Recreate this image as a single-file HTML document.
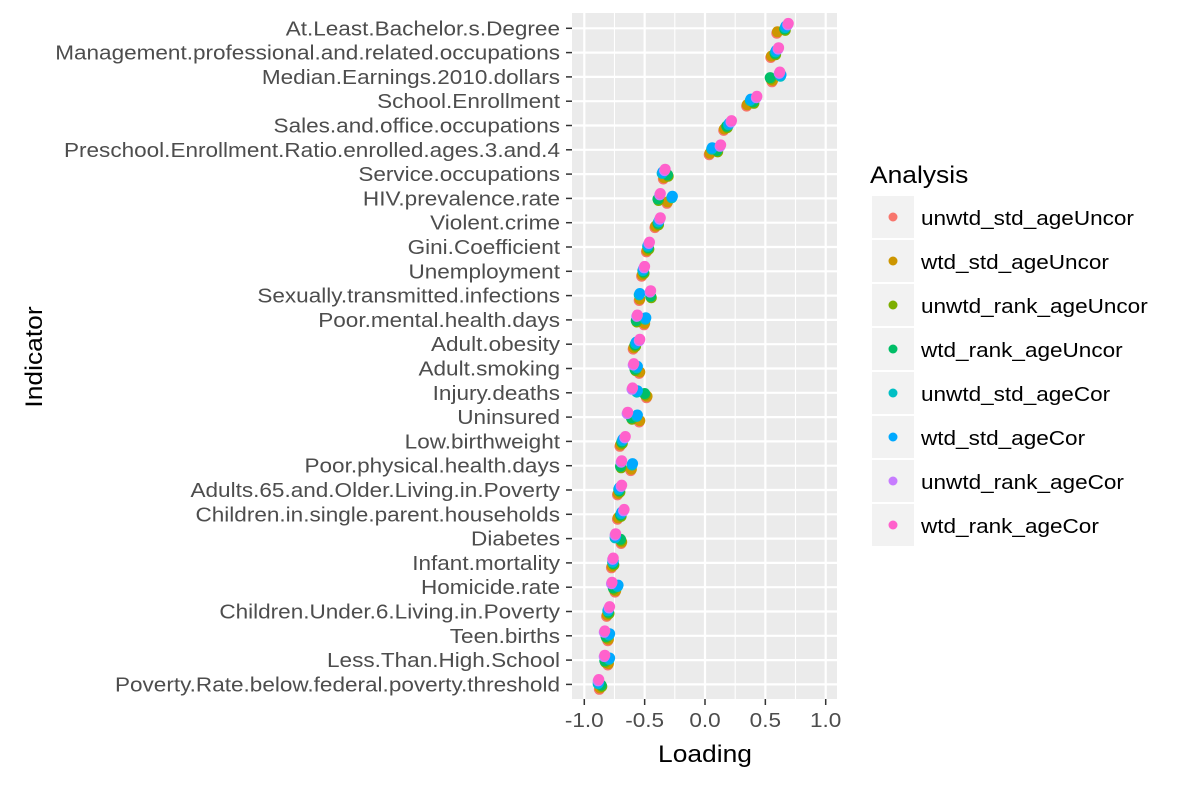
<!DOCTYPE html>
<html><head><meta charset="utf-8"><style>
body{margin:0;background:#fff;}
svg text{font-family:"Liberation Sans",Arial,sans-serif;}
</style></head><body>
<svg id="chart" width="1200" height="782">
<rect x="572" y="13" width="265" height="686" fill="#ebebeb"/>
<g id="grid"></g><g id="ylabels"></g><g id="xlabels"></g><g id="points"></g><g id="legend"></g>
<text x="705" y="762" text-anchor="middle" font-size="24" fill="#000" transform="translate(705,0) scale(1.1,1) translate(-705,0)">Loading</text>
<text transform="translate(42,357) rotate(-90) scale(1.1,1)" text-anchor="middle" font-size="24" fill="#000">Indicator</text>
</svg>
<script>
const categories=["At.Least.Bachelor.s.Degree","Management.professional.and.related.occupations","Median.Earnings.2010.dollars","School.Enrollment","Sales.and.office.occupations","Preschool.Enrollment.Ratio.enrolled.ages.3.and.4","Service.occupations","HIV.prevalence.rate","Violent.crime","Gini.Coefficient","Unemployment","Sexually.transmitted.infections","Poor.mental.health.days","Adult.obesity","Adult.smoking","Injury.deaths","Uninsured","Low.birthweight","Poor.physical.health.days","Adults.65.and.Older.Living.in.Poverty","Children.in.single.parent.households","Diabetes","Infant.mortality","Homicide.rate","Children.Under.6.Living.in.Poverty","Teen.births","Less.Than.High.School","Poverty.Rate.below.federal.poverty.threshold"];
const seriesNames=["unwtd_std_ageUncor","wtd_std_ageUncor","unwtd_rank_ageUncor","wtd_rank_ageUncor","unwtd_std_ageCor","wtd_std_ageCor","unwtd_rank_ageCor","wtd_rank_ageCor"];
const seriesColors=["#F8766D","#CD9600","#7CAE00","#00BE67","#00BFC4","#00A9FF","#C77CFF","#FF61CC"];
const stdUncor=[0.60,0.55,0.56,0.35,0.16,0.04,-0.34,-0.31,-0.41,-0.48,-0.52,-0.54,-0.50,-0.59,-0.54,-0.48,-0.54,-0.70,-0.61,-0.72,-0.72,-0.69,-0.77,-0.74,-0.81,-0.80,-0.80,-0.87];
const rankUncor=[0.66,0.58,0.54,0.40,0.18,0.10,-0.31,-0.39,-0.39,-0.47,-0.51,-0.45,-0.57,-0.58,-0.58,-0.50,-0.61,-0.69,-0.70,-0.71,-0.70,-0.70,-0.76,-0.76,-0.80,-0.82,-0.83,-0.86];
const stdCor=[0.67,0.59,0.63,0.38,0.20,0.06,-0.35,-0.27,-0.38,-0.47,-0.51,-0.54,-0.49,-0.57,-0.56,-0.56,-0.56,-0.68,-0.60,-0.71,-0.69,-0.74,-0.76,-0.72,-0.80,-0.79,-0.79,-0.88];
const rankCor=[0.69,0.61,0.62,0.43,0.22,0.13,-0.33,-0.37,-0.37,-0.46,-0.50,-0.45,-0.56,-0.54,-0.59,-0.60,-0.64,-0.66,-0.69,-0.69,-0.67,-0.74,-0.76,-0.77,-0.79,-0.83,-0.83,-0.88];
const series=[stdUncor,stdUncor,rankUncor,rankUncor,stdCor,stdCor,rankCor,rankCor];
const seriesShift=[-0.005,0,0.005,0,-0.005,0,-0.005,0];
const xTicks=[-1.0,-0.5,0.0,0.5,1.0];
const xTickLabels=["-1.0","-0.5","0.0","0.5","1.0"];
const NS="http://www.w3.org/2000/svg";
const x=v=>705+v*120.7;
const y=i=>28.3+i*24.3;
function mk(tag,attrs,parent,txt){const e=document.createElementNS(NS,tag);for(const k in attrs)e.setAttribute(k,attrs[k]);if(txt!==undefined)e.textContent=txt;parent.appendChild(e);return e;}
const sx=(ax,s)=>`translate(${ax},0) scale(${s},1) translate(${-ax},0)`;
const grid=document.getElementById('grid');
for(let t=-1.0;t<=1.0001;t+=0.25){const major=Math.abs(t*2-Math.round(t*2))<1e-6;
 const l=mk('line',{x1:x(t),x2:x(t),y1:13,y2:699,stroke:'#fff','stroke-width':major?2.2:1.1},grid);
 
 }
const yl=document.getElementById('ylabels');
categories.forEach((c,i)=>{
 const l=mk('line',{x1:572,x2:837,y1:y(i),y2:y(i),stroke:'#fff','stroke-width':2.2},grid);
 
 
 const tk=mk('line',{x1:566,x2:572,y1:y(i),y2:y(i),stroke:'#333','stroke-width':1.5},yl);
 
 
 const t=mk('text',{x:560,y:y(i)+7,'text-anchor':'end','font-size':20.5,fill:'#4d4d4d',transform:sx(560,1.1)},yl,c);
 
 
});
const xl=document.getElementById('xlabels');
xTicks.forEach((v,k)=>{
 const tk=mk('line',{x1:x(v),x2:x(v),y1:699,y2:705,stroke:'#333','stroke-width':1.5},xl);
 
 
 const t=mk('text',{x:x(v),y:727,'text-anchor':'middle','font-size':20.5,fill:'#4d4d4d',transform:sx(x(v),1.1)},xl,xTickLabels[k]);
 
 
});
const pts=document.getElementById('points');
series.forEach((s,j)=>{
 s.forEach((v,i)=>{
  const c=mk('circle',{cx:x(v+seriesShift[j]),cy:y(i)+(3.5-j)*1.4,r:5.5,fill:seriesColors[j]},pts);
  
  
 });
});
const lg=document.getElementById('legend');
const tt=mk('text',{x:870,y:183,'font-size':24,fill:'#000',transform:sx(870,1.1)},lg,'Analysis');


seriesNames.forEach((n,j)=>{
 const g=mk('g',{},lg);
 
 
 mk('rect',{x:872,y:196+j*44,width:42,height:42,fill:'#f2f2f2'},g);
 mk('circle',{cx:893,cy:217+j*44,r:4.5,fill:seriesColors[j]},g);
 mk('text',{x:921,y:225+j*44,'font-size':20.5,fill:'#000',transform:sx(921,1.1)},g,n);
});
</script>
</body></html>
